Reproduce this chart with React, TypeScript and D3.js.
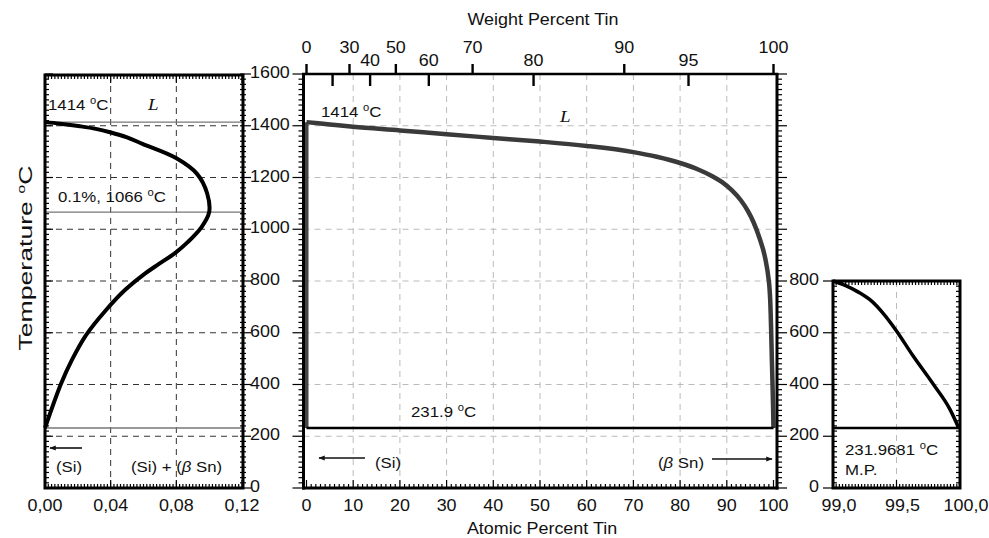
import React from 'react';
import * as d3 from 'd3';

const W = 989;
const H = 538;

// shared temperature axis
const tempTicks = [0, 200, 400, 600, 800, 1000, 1200, 1400, 1600];
const rightTempTicks = [0, 200, 400, 600, 800];

// main panel axes
const atomicTicks = [0, 10, 20, 30, 40, 50, 60, 70, 80, 90, 100];
const weightUpTicks = [0, 30, 50, 70, 90, 100];
const weightDownTicks = [20, 40, 60, 80, 95];
const weightDownLabels = ['', '40', '60', '80', '95'];

// left panel axes
const leftXTicks = [0, 0.04, 0.08, 0.12];
const leftXLabels = ['0,00', '0,04', '0,08', '0,12'];

// right panel axes
const rightXTicks = [99, 99.5, 100];
const rightXLabels = ['99,0', '99,5', '100,0'];

// liquidus (at.% Sn, °C)
const liqAt = [0, 5, 10, 20, 30, 40, 50, 60, 70, 75, 80, 84, 87, 89, 91, 93, 94.5, 95.7, 97, 98.2, 99.0, 99.1, 99.2, 99.3, 99.4, 99.5, 99.63, 99.79, 99.92, 99.99];
const liqT = [1414, 1405, 1396, 1382, 1367, 1353, 1339, 1322, 1298, 1280, 1256, 1230, 1204, 1182, 1152, 1112, 1071, 1028, 966, 890, 800, 782, 757, 724, 672, 607, 511, 401, 305, 232];

// retrograde solvus of (Si), at.% Sn
const solvusSn = [0, 0.0091, 0.0213, 0.031, 0.0396, 0.05, 0.0597, 0.0798, 0.0926, 0.0987, 0.1, 0.095, 0.0871, 0.0792, 0.0694, 0.0597, 0.0487, 0.0372, 0.025, 0.0164, 0.0097, 0];
const solvusT = [1414, 1408, 1398, 1388, 1375, 1355, 1329, 1275, 1214, 1140, 1066, 1005, 951, 908, 866, 823, 765, 688, 591, 495, 402, 232];

// special temperatures
const tSi = 1414;
const tMax = 1066;
const tEut = 231.9;

// wt.% -> at.% Sn
const mSn = 118.71;
const mSi = 28.0855;
const wtToAt = (w: number) => {
  const a = w / mSn;
  const b = (100 - w) / mSi;
  return (100 * a) / (a + b);
};

const y = d3.scaleLinear().domain([0, 1600]).range([488, 74]);
const xMain = d3.scaleLinear().domain([0, 100]).range([306.5, 773.5]);
const xLeft = d3.scaleLinear().domain([0, 0.12]).range([45, 242]);
const xRight = d3.scaleLinear().domain([99, 100]).range([833, 960]);

const FONT = 'Liberation Sans, Arial, sans-serif';
const SX = 1.12;

const Txt = ({ x, y, anchor = 'start', size = 16, italic = false, family = FONT, baseline, children }: any) => (
  <text
    transform={`translate(${x},${y}) scale(${SX},1)`}
    textAnchor={anchor}
    fontSize={size}
    fontFamily={family}
    fontStyle={italic ? 'italic' : 'normal'}
    dominantBaseline={baseline}
    fill="#111"
  >
    {children}
  </text>
);

const Deg = ({ t }: { t: string }) => (
  <>
    {t} <tspan dy={-6} fontSize={10}>o</tspan>
    <tspan dy={6}>C</tspan>
  </>
);

export default function App() {
  const minorT = d3.range(0, 1601, 20);
  const minorRT = d3.range(0, 801, 20);

  const liqLine = d3
    .line<number>()
    .x((_, i) => xMain(liqAt[i]))
    .y((_, i) => y(liqT[i]))
    .curve(d3.curveMonotoneX);

  const rightIdx = liqAt.map((_, i) => i).filter((i) => liqAt[i] >= 99);
  const rightLine = d3
    .line<number>()
    .x((i) => xRight(liqAt[i]))
    .y((i) => y(liqT[i]))
    .curve(d3.curveMonotoneX);

  const solvLine = d3
    .line<number>()
    .x((_, i) => xLeft(solvusSn[i]))
    .y((_, i) => y(solvusT[i]))
    .curve(d3.curveCatmullRom.alpha(0.5));

  const mL = xMain(0) - 3;
  const mR = xMain(100) + 3.5;
  const lL = xLeft(0);
  const lR = xLeft(0.12) + 1;
  const lTop = y(1600) + 1;
  const rTop = y(800);
  const bot = y(0);
  const xLabY = 511;

  return (
    <svg width={W} height={H} style={{ position: 'absolute', left: 0, top: 0, background: '#fff' }}>
      <defs>
        <marker id="ah" viewBox="0 0 10 10" refX="9" refY="5" markerWidth="5" markerHeight="4" orient="auto-start-reverse" markerUnits="strokeWidth">
          <path d="M0,1 L10,5 L0,9 z" fill="#111" />
        </marker>
      </defs>
      <rect width={W} height={H} fill="#fff" />

      {/* ---------- left panel ---------- */}
      <g>
        {tempTicks.slice(1, -1).map((t) => (
          <line key={'lg' + t} x1={lL} x2={lR} y1={y(t)} y2={y(t)} stroke="#333" strokeDasharray="6,5" strokeWidth={1} />
        ))}
        {[0.04, 0.08].map((v) => (
          <line key={'lv' + v} x1={xLeft(v)} x2={xLeft(v)} y1={lTop} y2={bot} stroke="#333" strokeDasharray="6,5" strokeWidth={1} />
        ))}
        {[tSi, tMax, tEut].map((t) => (
          <line key={'lh' + t} x1={lL} x2={lR} y1={y(t)} y2={y(t)} stroke="#777" strokeWidth={1.3} />
        ))}
        <path d={solvLine(solvusSn) || ''} fill="none" stroke="#000" strokeWidth={4} />
        {/* ticks */}
        {minorT.map((t) => (
          <g key={'lt' + t}>
            <line x1={lL} x2={lL + (t % 200 === 0 ? 8 : 4)} y1={y(t)} y2={y(t)} stroke="#000" strokeWidth={1.2} />
            <line x1={lR - 3} x2={lR + (t % 200 === 0 ? 8 : 3)} y1={y(t)} y2={y(t)} stroke="#000" strokeWidth={1.2} />
          </g>
        ))}
        {d3.range(0, 0.1201, 0.002).map((v) => {
          const major = Math.abs(v / 0.04 - Math.round(v / 0.04)) < 1e-6;
          return (
            <g key={'lx' + v}>
              <line x1={xLeft(v)} x2={xLeft(v)} y1={bot} y2={bot - (major ? 8 : 4)} stroke="#000" strokeWidth={1.2} />
              <line x1={xLeft(v)} x2={xLeft(v)} y1={lTop} y2={lTop + (major ? 8 : 4)} stroke="#000" strokeWidth={1.2} />
            </g>
          );
        })}
        <rect x={lL} y={lTop} width={lR - lL} height={bot - lTop} fill="none" stroke="#000" strokeWidth={3} />
        {leftXTicks.map((v, i) => (
          <Txt key={'lxl' + v} x={xLeft(v)} y={xLabY} anchor="middle">{leftXLabels[i]}</Txt>
        ))}
        <Txt x={48} y={110} size={15}><Deg t="1414" /></Txt>
        <Txt x={148} y={110} size={17} italic family="Liberation Serif, Times New Roman, serif">L</Txt>
        <Txt x={58} y={202} size={15}>0.1%, <Deg t="1066" /></Txt>
        <line x1={82} x2={50} y1={448} y2={448} stroke="#111" strokeWidth={1.6} markerEnd="url(#ah)" />
        <Txt x={56} y={472} size={15}>(Si)</Txt>
        <Txt x={131} y={472} size={15}>(Si) + (<tspan fontStyle="italic">β</tspan> Sn)</Txt>
      </g>

      {/* shared temperature labels */}
      {tempTicks.map((t) => (
        <Txt key={'tl' + t} x={250} y={y(t) - 1} baseline="central">{t}</Txt>
      ))}

      <text
        transform={`translate(32,258) rotate(-90)`}
        textAnchor="middle"
        fontSize={18}
        fontFamily={FONT}
        textLength={185}
        lengthAdjust="spacingAndGlyphs"
        fill="#111"
      >
        Temperature <tspan dy={-7} fontSize={11}>o</tspan><tspan dy={7}>C</tspan>
      </text>

      {/* ---------- main panel ---------- */}
      <g>
        {tempTicks.slice(1, -1).map((t) => (
          <line key={'mg' + t} x1={mL} x2={mR} y1={y(t)} y2={y(t)} stroke="#bbb" strokeDasharray="6,5" strokeWidth={1} />
        ))}
        {atomicTicks.slice(1, -1).map((v) => (
          <line key={'mv' + v} x1={xMain(v)} x2={xMain(v)} y1={y(1600)} y2={bot} stroke="#bbb" strokeDasharray="6,5" strokeWidth={1} />
        ))}
        {/* Si solidus */}
        <line x1={xMain(0)} x2={xMain(0)} y1={y(tSi)} y2={y(tEut)} stroke="#444" strokeWidth={4} />
        <path d={liqLine(liqAt) || ''} fill="none" stroke="#3a3a3a" strokeWidth={4.5} />
        <line x1={xMain(0)} x2={xMain(100)} y1={y(tEut)} y2={y(tEut)} stroke="#000" strokeWidth={2.6} />

        {minorT.map((t) => (
          <g key={'mt' + t}>
            <line x1={mL} x2={mL - (t % 200 === 0 ? 11 : 5)} y1={y(t)} y2={y(t)} stroke="#000" strokeWidth={1.2} />
            <line x1={mR} x2={mR + (t % 200 === 0 ? 10 : 5)} y1={y(t)} y2={y(t)} stroke="#000" strokeWidth={1.2} />
          </g>
        ))}
        {d3.range(0, 101, 1).map((v) => (
          <line key={'mx' + v} x1={xMain(v)} x2={xMain(v)} y1={bot} y2={bot - (v % 10 === 0 ? 8 : 4)} stroke="#000" strokeWidth={1.2} />
        ))}
        <line x1={mL} x2={mL} y1={y(1600)} y2={bot + 1.5} stroke="#000" strokeWidth={3} />
        <line x1={mR} x2={mR} y1={y(1600)} y2={bot + 1.5} stroke="#000" strokeWidth={3} />
        <line x1={mL - 1.5} x2={mR + 1.5} y1={bot} y2={bot} stroke="#000" strokeWidth={3} />
        <line x1={mL - 1.5} x2={mR + 1.5} y1={y(1600)} y2={y(1600)} stroke="#000" strokeWidth={2.4} />

        {/* weight percent axis */}
        {weightUpTicks.map((w) => (
          <g key={'wu' + w}>
            <line x1={xMain(wtToAt(w))} x2={xMain(wtToAt(w))} y1={y(1600)} y2={y(1600) - 10} stroke="#000" strokeWidth={2.4} />
            <Txt x={xMain(wtToAt(w))} y={53} anchor="middle">{w}</Txt>
          </g>
        ))}
        {weightDownTicks.map((w, i) => (
          <g key={'wd' + w}>
            <line x1={xMain(wtToAt(w))} x2={xMain(wtToAt(w))} y1={y(1600)} y2={y(1600) + 12} stroke="#000" strokeWidth={2.4} />
            <Txt x={xMain(wtToAt(w))} y={66} anchor="middle">{weightDownLabels[i]}</Txt>
          </g>
        ))}
        <Txt x={543} y={25} anchor="middle">Weight Percent Tin</Txt>

        {atomicTicks.map((v) => (
          <Txt key={'al' + v} x={xMain(v)} y={xLabY} anchor="middle">{v}</Txt>
        ))}
        <Txt x={542} y={534} anchor="middle">Atomic Percent Tin</Txt>

        <Txt x={321} y={117} size={15}><Deg t="1414" /></Txt>
        <Txt x={560} y={122} size={17} italic family="Liberation Serif, Times New Roman, serif">L</Txt>
        <Txt x={411} y={417} size={15}><Deg t="231.9" /></Txt>
        <line x1={365} x2={319} y1={458} y2={458} stroke="#111" strokeWidth={1.6} markerEnd="url(#ah)" />
        <Txt x={375} y={468} size={15}>(Si)</Txt>
        <Txt x={658} y={468} size={15}>(<tspan fontStyle="italic">β</tspan> Sn)</Txt>
        <line x1={712} x2={772} y1={459} y2={459} stroke="#111" strokeWidth={1.6} markerEnd="url(#ah)" />
      </g>

      {/* ---------- right panel ---------- */}
      <g>
        {[400, 600].map((t) => (
          <line key={'rg' + t} x1={xRight(99)} x2={xRight(100)} y1={y(t)} y2={y(t)} stroke="#bbb" strokeDasharray="6,5" strokeWidth={1} />
        ))}
        <line x1={xRight(99.5)} x2={xRight(99.5)} y1={rTop} y2={bot} stroke="#bbb" strokeDasharray="6,5" strokeWidth={1} />
        <path d={rightLine(rightIdx) || ''} fill="none" stroke="#000" strokeWidth={3.5} />
        <line x1={xRight(99)} x2={xRight(100)} y1={y(tEut)} y2={y(tEut)} stroke="#000" strokeWidth={2.6} />
        {minorRT.map((t) => (
          <g key={'rt' + t}>
            <line x1={xRight(99)} x2={xRight(99) - (t % 200 === 0 ? 10 : 0)} y1={y(t)} y2={y(t)} stroke="#000" strokeWidth={1.2} />
            <line x1={xRight(99)} x2={xRight(99) + 4} y1={y(t)} y2={y(t)} stroke="#000" strokeWidth={1.2} />
            <line x1={xRight(100)} x2={xRight(100) - 4} y1={y(t)} y2={y(t)} stroke="#000" strokeWidth={1.2} />
          </g>
        ))}
        {d3.range(0, 41, 1).map((k) => {
          const v = 99 + k * 0.025;
          const major = k % 20 === 0;
          return (
            <g key={'rx' + k}>
              <line x1={xRight(v)} x2={xRight(v)} y1={bot} y2={bot - (major ? 8 : 4)} stroke="#000" strokeWidth={1.2} />
              <line x1={xRight(v)} x2={xRight(v)} y1={rTop} y2={rTop + 4} stroke="#000" strokeWidth={1.2} />
            </g>
          );
        })}
        <rect x={xRight(99)} y={rTop} width={xRight(100) - xRight(99)} height={bot - rTop} fill="none" stroke="#000" strokeWidth={3} />
        {rightTempTicks.map((t) => (
          <Txt key={'rtl' + t} x={819} y={y(t) - 1} anchor="end" baseline="central">{t}</Txt>
        ))}
        {rightXTicks.map((v, i) => (
          <Txt key={'rxl' + v} x={xRight(v) + 6} y={xLabY} anchor="middle">{rightXLabels[i]}</Txt>
        ))}
        <Txt x={845} y={455} size={15}><Deg t="231.9681" /></Txt>
        <Txt x={845} y={475} size={15}>M.P.</Txt>
      </g>
    </svg>
  );
}
